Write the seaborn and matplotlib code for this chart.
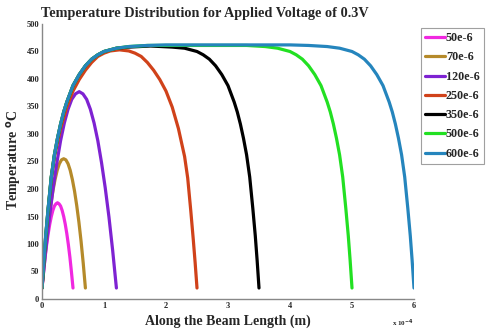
import matplotlib
matplotlib.use("Agg")
import matplotlib.pyplot as plt
import seaborn as sns
import pandas as pd
from matplotlib.lines import Line2D

# ---- data (x in units of 1e-4 m, temperature in deg C) ----
series_names = ["50e-6", "70e-6", "120e-6", "250e-6", "350e-6", "500e-6", "600e-6"]

x_50 = [0, .025, .05, .075, .1, .125, .15, .175, .2, .225, .25,
        .275, .3, .325, .35, .375, .4, .425, .45, .475, .5]
t_50 = [20, 49, 76, 99, 119, 136, 150, 161, 169, 173, 175,
        173, 169, 161, 150, 136, 119, 99, 76, 49, 20]

x_70 = [0, .035, .07, .105, .14, .175, .21, .245, .28, .315, .35,
        .385, .42, .455, .49, .525, .56, .595, .63, .665, .7]
t_70 = [20, 65, 105, 140, 170, 196, 217, 234, 246, 253, 255,
        253, 246, 234, 217, 196, 170, 140, 105, 65, 20]

x_120 = [0, .06, .12, .18, .24, .3, .36, .42, .48, .54, .6,
         .66, .72, .78, .84, .9, .96, 1.02, 1.08, 1.14, 1.2]
t_120 = [20, 88, 149, 202, 248, 288, 320, 345, 363, 373, 377,
         373, 363, 345, 320, 288, 248, 202, 149, 88, 20]

x_250 = [0, .03, .06, .1, .15, .2, .3, .4, .5, .6, .7, .8, .9, 1.0, 1.1, 1.25,
         1.4, 1.5, 1.6, 1.7, 1.8, 1.9, 2.0, 2.1, 2.2, 2.3, 2.35, 2.4, 2.44, 2.47, 2.5]
t_250 = [20, 66, 108, 160, 220, 259, 310, 349, 378, 399, 416, 430, 441, 447, 451, 453,
         451, 447, 441, 430, 416, 399, 378, 349, 310, 259, 220, 160, 108, 66, 20]

x_350 = [0, .03, .06, .1, .15, .2, .25, .3, .35, .4, .5, .6, .7, .8, .9, 1.0, 1.2, 1.4,
         1.75, 2.1, 2.3, 2.5, 2.6, 2.7, 2.8, 2.9, 3.0, 3.1, 3.15, 3.2, 3.25, 3.3,
         3.35, 3.4, 3.44, 3.47, 3.5]
t_350 = [20, 70, 115, 165, 222, 262, 292, 318, 340, 358, 388, 408, 424, 436, 444, 450, 456, 458,
         460, 458, 456, 450, 444, 436, 424, 408, 388, 358, 340, 318, 292, 262,
         222, 165, 115, 70, 20]

x_500 = [0, .03, .06, .1, .15, .2, .25, .3, .35, .4, .5, .6, .7, .8, .9, 1.0, 1.2, 1.4, 1.7,
         2.5, 3.3, 3.6, 3.8, 4.0, 4.1, 4.2, 4.3, 4.4, 4.5, 4.6, 4.65, 4.7, 4.75, 4.8,
         4.85, 4.9, 4.94, 4.97, 5.0]
t_500 = [20, 70, 115, 165, 222, 262, 292, 318, 340, 358, 388, 408, 424, 436, 444, 450, 456, 459, 461,
         461, 461, 459, 456, 450, 444, 436, 424, 408, 388, 358, 340, 318, 292, 262,
         222, 165, 115, 70, 20]

x_600 = [0, .03, .06, .1, .15, .2, .25, .3, .35, .4, .5, .6, .7, .8, .9, 1.0, 1.2, 1.4, 1.7,
         2.0, 3.0, 4.0, 4.3, 4.6, 4.8, 5.0, 5.1, 5.2, 5.3, 5.4, 5.5, 5.6, 5.65, 5.7, 5.75,
         5.8, 5.85, 5.9, 5.94, 5.97, 6.0]
t_600 = [20, 70, 115, 165, 222, 262, 292, 318, 340, 358, 388, 408, 424, 436, 444, 450, 456, 459, 461,
         462, 462, 462, 461, 459, 456, 450, 444, 436, 424, 408, 388, 358, 340, 318, 292,
         262, 222, 165, 115, 70, 20]

xs = [x_50, x_70, x_120, x_250, x_350, x_500, x_600]
ts = [t_50, t_70, t_120, t_250, t_350, t_500, t_600]

x_ticks = [0, 1, 2, 3, 4, 5, 6]
y_ticks = [0, 50, 100, 150, 200, 250, 300, 350, 400, 450, 500]

colors = ["#f028e0", "#b58a2a", "#7e22d2", "#d0421a", "#000000", "#22e022", "#2585bd"]

rows = []
for name, xv, tv in zip(series_names, xs, ts):
    for i, (a, b) in enumerate(zip(xv, tv)):
        rows.append({"series": name, "x": a, "T": b, "i": i})
df = pd.DataFrame(rows)

sns.set_theme(style="white")
plt.rcParams["font.family"] = ["Liberation Serif", "DejaVu Serif"]
plt.rcParams["font.weight"] = "bold"

fig = plt.figure(figsize=(4.88, 3.34), dpi=100)
ax = fig.add_axes([42 / 488, 1 - 299 / 334, (414 - 42) / 488, (299 - 24) / 334])

palette = dict(zip(series_names, colors))
sns.lineplot(data=df, x="x", y="T", hue="series", hue_order=series_names,
             palette=palette, sort=False, estimator=None, units="series",
             linewidth=2.3, ax=ax, legend=False)

ax.set_xlim(0, 6)
ax.set_ylim(0, 500)
ax.set_xticks(x_ticks)
ax.set_yticks(y_ticks)
ax.set_xticklabels([str(v) for v in x_ticks], fontsize=6, fontweight="bold")
ax.set_yticklabels([str(v) for v in y_ticks], fontsize=6, fontweight="bold")
ax.tick_params(direction="in", length=3, width=0.8, color="#888888", pad=2)
for s in ["top", "right"]:
    ax.spines[s].set_visible(False)
for s in ["left", "bottom"]:
    ax.spines[s].set_color("#888888")
    ax.spines[s].set_linewidth(1.0)
ax.set_xlabel("")
ax.set_ylabel("")

fig.text(205 / 488, 1 - 13 / 334, "Temperature Distribution for Applied Voltage of 0.3V",
         ha="center", va="center", fontsize=10.3, fontweight="bold")
fig.text(228 / 488, 1 - 321 / 334, "Along the Beam Length (m)",
         ha="center", va="center", fontsize=10, fontweight="bold")
fig.text(15 / 488, 1 - 160 / 334, "Temperature $^{\\mathbf{o}}$C", rotation=90,
         ha="center", va="center", fontsize=10, fontweight="bold")
fig.text(403 / 488, 1 - 323 / 334, "x 10$^{-4}$", ha="center", va="center",
         fontsize=5, fontweight="bold")

handles = [Line2D([0], [0], color=c, lw=2.3) for c in colors]
leg = fig.legend(handles, series_names, loc="upper left",
                 bbox_to_anchor=(421 / 488, 1 - 28 / 334),
                 prop={"size": 8.7, "weight": "bold"},
                 frameon=True, fancybox=False, handlelength=1.6,
                 handletextpad=0.1, borderpad=0.35, labelspacing=0.6,
                 borderaxespad=0.0)
leg.get_frame().set_edgecolor("#888888")
leg.get_frame().set_linewidth(0.8)

fig.savefig("out.png", dpi=100)
